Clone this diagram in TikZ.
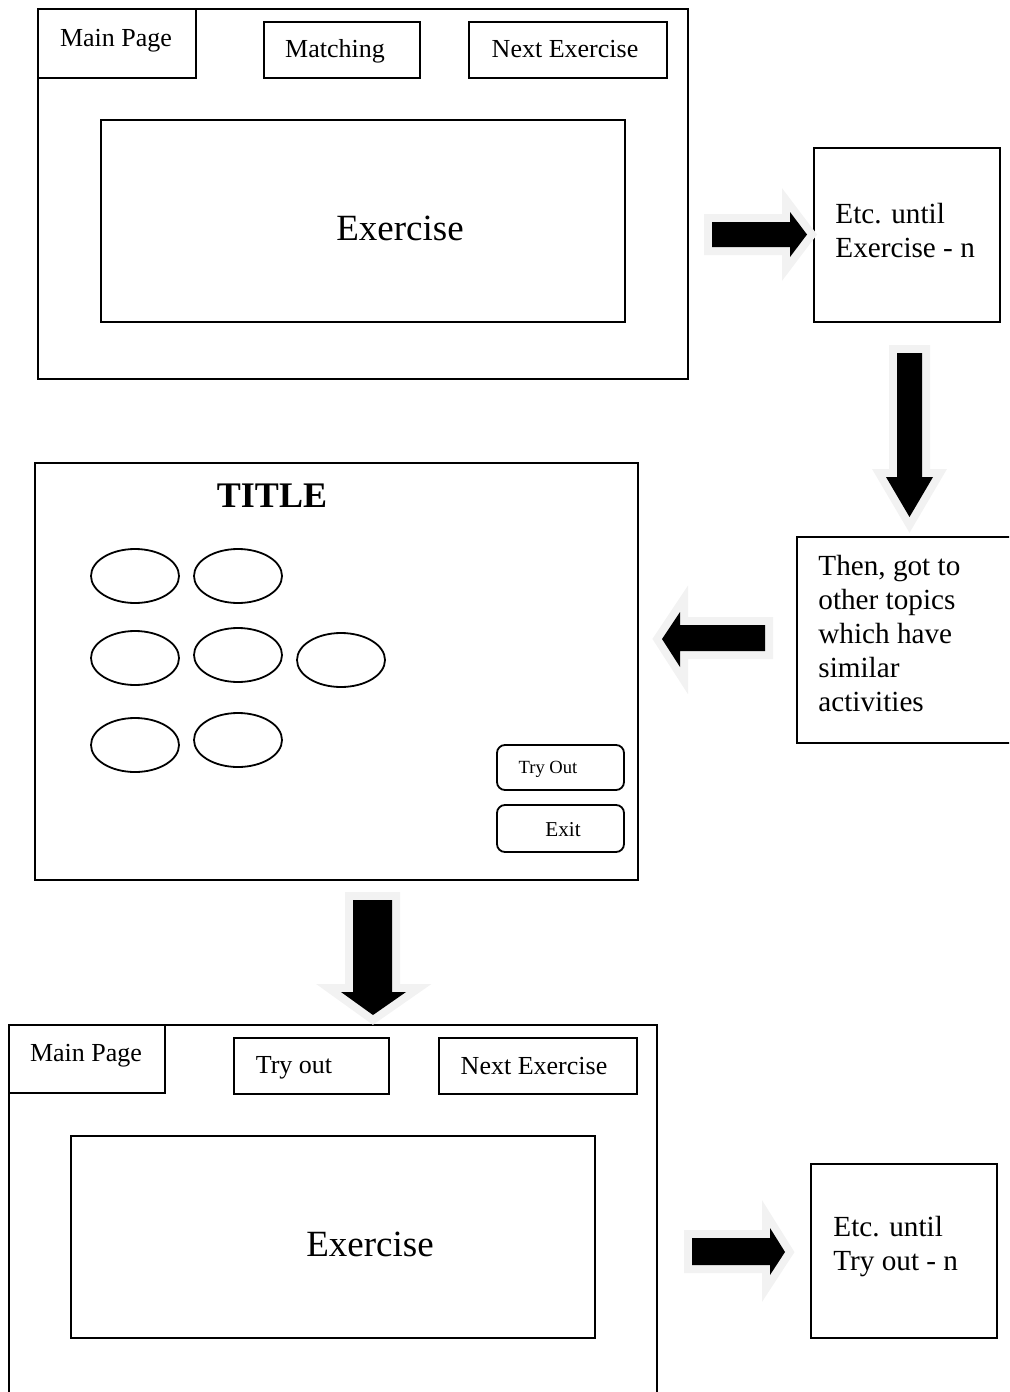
\documentclass[tikz,border=0pt]{standalone}
\usepackage{fontspec}
\setmainfont{Liberation Serif}
\usetikzlibrary{fit,shapes.geometric}
\definecolor{arrowgrey}{RGB}{242,242,242}
\begin{document}
\begin{tikzpicture}[x=0.5pt,y=-0.5pt,
  frame/.style={draw, line width=1pt, inner sep=0pt},
  button/.style={draw, line width=0.9pt, inner sep=0pt, rounded corners=4pt},
  oval/.style={draw, ellipse, line width=0.9pt, minimum width=44pt, minimum height=27pt, inner sep=0pt},
  tab/.style={inner sep=0pt, font=\fontsize{13}{15.6}\selectfont},
  big/.style={inner sep=0pt, font=\fontsize{18.5}{22}\selectfont},
  note/.style={inner sep=0pt, anchor=west, align=left, font=\fontsize{14.6}{17}\selectfont},
  blockarrow/.style={fill=black, preaction={draw=arrowgrey, line width=8pt, line join=miter}}]
\useasboundingbox (0,0) rectangle (1009,1392);
\clip (0,0) rectangle (1009,1392);

% ---------- top screen ----------
\node[frame, fit={(38,9) (688,379)}] (scr1) {};
\node[frame, fit={(38,9) (196,78)}] (main1) {};
\node[frame, fit={(264,22) (420,78)}] (match1) {};
\node[frame, fit={(469,22) (667,78)}] (next1) {};
\node[frame, fit={(101,120) (625,322)}] (ex1) {};
\node[tab] (main1t) at (116,41) {Main Page};
\node[tab] (match1t) at (335,51) {Matching};
\node[tab] (next1t) at (565,49) {Next Exercise};
\node[big] (ex1t) at (400,228) {Exercise};

% ---------- Etc box 1 ----------
\node[frame, fit={(814,148) (1000,322)}] (etc1) {};
\node[note] (etc1t) at (835,231) {Etc. until\\Exercise - n};

% ---------- Then box ----------
\node[frame, fit={(797,537) (1015,743)}] (then) {};
\node[note] (thent) at (818,634) {Then, got to\\other topics\\which have\\similar\\activities};

% ---------- title screen ----------
\node[frame, fit={(35,463) (638,880)}] (scr2) {};
\node[inner sep=0pt, font=\bfseries\fontsize{18}{21}\selectfont] (title) at (272,496) {TITLE};
\node[oval] (o1) at (135,576) {};
\node[oval] (o2) at (238,576) {};
\node[oval] (o3) at (135,658) {};
\node[oval] (o4) at (238,655) {};
\node[oval] (o5) at (341,660) {};
\node[oval] (o6) at (135,745) {};
\node[oval] (o7) at (238,740) {};
\node[button, fit={(497,745) (624,790)}] (tryb) {};
\node[button, fit={(497,805) (624,852)}] (exitb) {};
\node[inner sep=0pt, font=\fontsize{9.3}{11}\selectfont] (trybt) at (548,769) {Try Out};
\node[inner sep=0pt, font=\fontsize{10.6}{12.5}\selectfont] (exitbt) at (563,830) {Exit};

% ---------- bottom screen ----------
\draw[line width=1pt] (9,1400) -- (9,1025) -- (657,1025) -- (657,1400);
\coordinate (scr3) at (333,1200);
\node[frame, fit={(9,1025) (165,1093)}] (main2) {};
\node[frame, fit={(234,1038) (389,1094)}] (try2) {};
\node[frame, fit={(439,1038) (637,1094)}] (next2) {};
\node[frame, fit={(71,1136) (595,1338)}] (ex2) {};
\node[tab] (main2t) at (86,1056) {Main Page};
\node[tab] (try2t) at (294,1068) {Try out};
\node[tab] (next2t) at (534,1066) {Next Exercise};
\node[big] (ex2t) at (370,1244) {Exercise};

% ---------- Etc box 2 ----------
\node[frame, fit={(811,1164) (997,1338)}] (etc2) {};
\node[note] (etc2t) at (833,1247) {Etc. until\\Try out - n};

% ---------- block arrows ----------
\path[blockarrow] (712,222) -- (790,222) -- (790,212) -- (807,234.5) -- (790,257) -- (790,247) -- (712,247) -- cycle;
\path[blockarrow] (897,353) -- (922,353) -- (922,477) -- (933,477) -- (909.5,517) -- (886,477) -- (897,477) -- cycle;
\path[blockarrow] (765,625) -- (680,625) -- (680,612) -- (662,639) -- (680,667) -- (680,651) -- (765,651) -- cycle;
\path[blockarrow] (353,900) -- (392,900) -- (392,992) -- (406,992) -- (373,1015) -- (341,992) -- (353,992) -- cycle;
\path[blockarrow] (692,1238) -- (770,1238) -- (770,1228) -- (785,1252) -- (770,1275) -- (770,1265) -- (692,1265) -- cycle;
\end{tikzpicture}
\end{document}
